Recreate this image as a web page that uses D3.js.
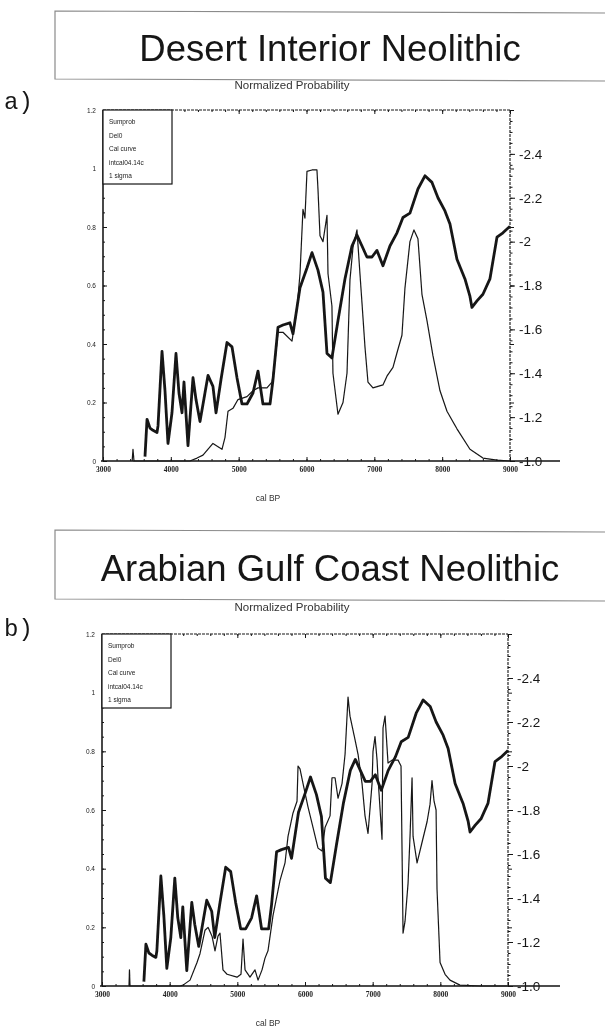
<!DOCTYPE html>
<html lang="en">
<head>
<meta charset="UTF-8">
<title>Desert Interior / Arabian Gulf Coast Neolithic</title>
<script src="https://cdn.jsdelivr.net/npm/d3@7"></script>
<style>
    body{margin:0;background:#fff;}
    svg{display:block;}
</style>
</head>
<body>
<script>
    // calibration curve (intcal04), read against the right axis - same curve in both panels
    var calCurve = [[3619,-1.02],[3649,-1.19],[3693,-1.15],[3737,-1.14],[3796,-1.13],[3811,-1.16],[3870,-1.50],[3914,-1.32],
        [3958,-1.08],[4017,-1.22],[4076,-1.49],[4120,-1.31],[4165,-1.22],[4194,-1.36],[4253,-1.07],[4327,-1.38],[4371,-1.28],
        [4430,-1.18],[4503,-1.31],[4548,-1.39],[4621,-1.34],[4666,-1.22],[4739,-1.37],[4828,-1.54],[4902,-1.52],[4975,-1.38],
        [5049,-1.26],[5123,-1.26],[5211,-1.31],[5285,-1.41],[5358,-1.26],[5462,-1.26],[5506,-1.37],[5580,-1.61],[5653,-1.62],
        [5756,-1.63],[5801,-1.58],[5904,-1.79],[6007,-1.88],[6081,-1.95],[6169,-1.87],[6243,-1.77],[6302,-1.49],[6375,-1.47],
        [6464,-1.64],[6567,-1.83],[6670,-1.98],[6744,-2.03],[6818,-1.98],[6891,-1.93],[6965,-1.93],[7039,-1.96],[7127,-1.89],
        [7230,-1.98],[7334,-2.04],[7422,-2.11],[7525,-2.13],[7643,-2.24],[7746,-2.30],[7850,-2.27],[7938,-2.20],[8041,-2.14],
        [8115,-2.08],[8218,-1.92],[8336,-1.83],[8410,-1.75],[8439,-1.70],[8513,-1.73],[8601,-1.76],[8704,-1.83],[8808,-2.02],
        [8896,-2.04],[9000,-2.07]];

    // normalized summed probability, panel a
    var probDesert = [[3430,0],[3442,0.04],[3457,0],[4282,0],[4386,0.01],[4474,0.02],[4621,0.06],[4754,0.04],[4798,0.08],
        [4843,0.17],[4916,0.18],[4990,0.21],[5123,0.22],[5211,0.24],[5285,0.25],[5417,0.25],[5491,0.27],[5535,0.34],[5580,0.44],
        [5653,0.44],[5786,0.41],[5860,0.52],[5904,0.64],[5948,0.86],[5977,0.83],[6007,0.99],[6081,0.995],[6154,0.995],[6169,0.93],
        [6199,0.77],[6243,0.75],[6302,0.84],[6317,0.64],[6375,0.53],[6390,0.30],[6464,0.16],[6538,0.20],[6597,0.30],[6641,0.62],
        [6685,0.73],[6744,0.79],[6788,0.64],[6818,0.54],[6862,0.39],[6906,0.27],[6980,0.25],[7127,0.26],[7186,0.29],[7275,0.32],
        [7334,0.37],[7407,0.43],[7451,0.59],[7525,0.75],[7584,0.79],[7643,0.76],[7702,0.57],[7776,0.48],[7864,0.36],[7968,0.24],
        [8071,0.17],[8218,0.11],[8410,0.04],[8601,0.01],[8808,0.003],[9000,0]];

    // normalized summed probability, panel b
    var probGulf = [[3399,0],[3406,0.055],[3414,0],[4153,0],[4197,0.003],[4301,0.02],[4404,0.08],[4448,0.11],[4522,0.19],
        [4567,0.20],[4626,0.17],[4670,0.12],[4714,0.17],[4744,0.18],[4788,0.055],[4848,0.04],[4995,0.03],[5054,0.04],[5084,0.16],
        [5114,0.055],[5187,0.03],[5261,0.055],[5306,0.02],[5365,0.055],[5409,0.095],[5453,0.12],[5527,0.24],[5631,0.36],
        [5705,0.42],[5749,0.51],[5823,0.59],[5882,0.63],[5897,0.75],[5926,0.74],[5971,0.69],[6045,0.61],[6119,0.54],[6192,0.47],
        [6252,0.46],[6296,0.54],[6370,0.58],[6399,0.71],[6444,0.71],[6488,0.64],[6547,0.69],[6592,0.79],[6636,0.985],[6665,0.92],
        [6739,0.84],[6784,0.79],[6843,0.69],[6887,0.58],[6931,0.52],[6991,0.69],[7005,0.80],[7035,0.85],[7065,0.77],[7079,0.71],
        [7138,0.50],[7153,0.88],[7183,0.92],[7227,0.76],[7286,0.77],[7375,0.77],[7419,0.75],[7449,0.18],[7478,0.22],[7523,0.35],
        [7552,0.51],[7582,0.71],[7597,0.51],[7656,0.42],[7730,0.49],[7804,0.56],[7848,0.62],[7877,0.70],[7907,0.63],[7937,0.60],
        [7951,0.33],[7996,0.08],[8070,0.04],[8143,0.02],[8291,0.003],[8587,0],[9000,0]];

    var titles = ["Desert Interior Neolithic", "Arabian Gulf Coast Neolithic"];
    var panelTags = ["a)", "b)"];
    var xTicks = [3000, 4000, 5000, 6000, 7000, 8000, 9000];
    var leftTicks = [0, 0.2, 0.4, 0.6, 0.8, 1, 1.2];
    var rightTicks = [-1.0, -1.2, -1.4, -1.6, -1.8, -2.0, -2.2, -2.4];
    var rightTickLabels = ["-1.0", "-1.2", "-1.4", "-1.6", "-1.8", "-2", "-2.2", "-2.4"];
    var legendLines = ["Sumprob", "Del0", "Cal curve", "intcal04.14c", "1 sigma"];

    var width = 605;
    var height = 1028;
    var svg = d3.select('body').append('svg').attr('width', width).attr('height', height);
    svg.append('defs').append('filter').attr('id', 'soft')
        .append('feGaussianBlur').attr('stdDeviation', 0.45);
    var root = svg.append('g').attr('filter', 'url(#soft)');

    // page layout of the two scanned panels
    var panels = [
        {top: 110, bottom: 461, left: 103, right: 510, boxTop: 11, boxBottom: 79, titleY: 61, npY: 89, tagY: 109, prob: probDesert},
        {top: 634, bottom: 986, left: 102, right: 508, boxTop: 530, boxBottom: 599, titleY: 581, npY: 611, tagY: 636, prob: probGulf}
    ];
    var ink = '#161616';

    function drawPanel(p, i) {
        var g = root.append('g');
        var x = d3.scaleLinear().domain([3000, 9000]).range([p.left, p.right]);
        var yL = d3.scaleLinear().domain([0, 1.2]).range([p.bottom, p.top]);
        var yR = d3.scaleLinear().domain([-1.0, -2.6]).range([p.bottom, p.top]);

        // title box (open on the right, like the scan)
        g.append('path')
            .attr('d', 'M605,' + (p.boxTop + 2) + 'L55,' + p.boxTop + 'L55,' + p.boxBottom + 'L605,' + (p.boxBottom + 2))
            .attr('fill', 'none').attr('stroke', '#8a8a8a').attr('stroke-width', 1.2);
        g.append('text').attr('x', 330).attr('y', p.titleY).attr('text-anchor', 'middle')
            .attr('font-family', 'Liberation Sans, Arial, sans-serif').attr('font-size', 36.5).attr('fill', ink)
            .text(titles[i]);
        g.append('text').attr('x', 292).attr('y', p.npY).attr('text-anchor', 'middle')
            .attr('font-family', 'Liberation Sans, Arial, sans-serif').attr('font-size', 11.5).attr('fill', '#333')
            .text('Normalized Probability');
        g.append('text').attr('x', 4).attr('y', p.tagY)
            .attr('font-family', 'Liberation Mono, Courier New, monospace').attr('font-size', 24).attr('fill', ink)
            .text(panelTags[i]);

        // minor ticks
        var minorX = d3.range(3000, 9001, 200);
        g.append('g').attr('transform', 'translate(0,' + p.bottom + ')')
            .call(d3.axisBottom(x).tickValues(minorX).tickSize(-2).tickFormat(''));
        g.append('g').attr('transform', 'translate(0,' + p.top + ')')
            .call(d3.axisTop(x).tickValues(minorX).tickSize(-2).tickFormat(''));
        g.append('g').attr('transform', 'translate(' + p.left + ',0)')
            .call(d3.axisLeft(yL).tickValues(d3.range(0, 1.2001, 0.05)).tickSize(-2).tickFormat(''));
        g.append('g').attr('transform', 'translate(' + p.right + ',0)')
            .call(d3.axisRight(yR).tickValues(d3.range(-1.0, -2.601, -0.05)).tickSize(2.5).tickFormat(''));

        // major ticks + labels
        g.append('g').attr('class', 'xa').attr('transform', 'translate(0,' + p.bottom + ')')
            .call(d3.axisBottom(x).tickValues(xTicks).tickSize(-4).tickPadding(6).tickFormat(d3.format('d')));
        g.append('g').attr('transform', 'translate(0,' + p.top + ')')
            .call(d3.axisTop(x).tickValues(xTicks).tickSize(-4).tickFormat(''));
        g.append('g').attr('class', 'yl').attr('transform', 'translate(' + p.left + ',0)')
            .call(d3.axisLeft(yL).tickValues(leftTicks).tickSize(-4).tickPadding(7).tickFormat(function(d){ return String(d); }));
        g.append('g').attr('transform', 'translate(' + p.right + ',0)')
            .call(d3.axisLeft(yL).tickValues(leftTicks).tickSize(-4).tickFormat(''));
        g.append('g').attr('class', 'yr').attr('transform', 'translate(' + p.right + ',0)')
            .call(d3.axisRight(yR).tickValues(rightTicks).tickSize(5).tickPadding(4)
                .tickFormat(function(d, k){ return rightTickLabels[k]; }));

        g.selectAll('.domain').remove();
        g.selectAll('.tick line').attr('stroke', ink).attr('stroke-width', 1);
        g.selectAll('.xa text').attr('font-size', 7.5).attr('font-weight', 'bold').attr('fill', '#222')
            .attr('font-family', 'Liberation Serif, serif');
        g.selectAll('.yl text').attr('font-size', 6.5).attr('fill', '#222').attr('font-family', 'Liberation Sans, sans-serif');
        g.selectAll('.yr text').attr('font-size', 13.5).attr('fill', ink).attr('font-family', 'Liberation Sans, sans-serif');

        // frame
        g.append('line').attr('x1', p.left).attr('x2', p.left).attr('y1', p.top).attr('y2', p.bottom)
            .attr('stroke', ink).attr('stroke-width', 1.6);
        g.append('line').attr('x1', p.left - 2).attr('x2', 560).attr('y1', p.bottom).attr('y2', p.bottom)
            .attr('stroke', ink).attr('stroke-width', 1.6);
        g.append('line').attr('x1', p.left).attr('x2', p.right).attr('y1', p.top).attr('y2', p.top)
            .attr('stroke', ink).attr('stroke-width', 1.1).attr('stroke-dasharray', '3,1');
        g.append('line').attr('x1', p.right).attr('x2', p.right).attr('y1', p.top).attr('y2', p.bottom)
            .attr('stroke', ink).attr('stroke-width', 1.1).attr('stroke-dasharray', '3,1');

        g.append('text').attr('x', 268).attr('y', p.bottom + 40).attr('text-anchor', 'middle')
            .attr('font-family', 'Liberation Sans, sans-serif').attr('font-size', 8.5).attr('fill', '#333')
            .text('cal BP');

        // legend box
        var lg = g.append('g').attr('transform', 'translate(' + p.left + ',' + p.top + ')');
        lg.append('rect').attr('width', 69).attr('height', 74).attr('fill', '#fff')
            .attr('stroke', ink).attr('stroke-width', 1.2);
        lg.selectAll('text').data(legendLines).enter().append('text')
            .attr('x', 6).attr('y', function(d, k){ return 14 + k * 13.6; })
            .attr('font-family', 'Liberation Sans, sans-serif').attr('font-size', 6.5).attr('fill', '#222')
            .text(function(d){ return d; });

        // series
        var probLine = d3.line().x(function(d){ return x(d[0]); }).y(function(d){ return yL(d[1]); });
        var calLine = d3.line().x(function(d){ return x(d[0]); }).y(function(d){ return yR(d[1]); });
        g.append('path').datum(p.prob).attr('d', probLine)
            .attr('fill', 'none').attr('stroke', ink).attr('stroke-width', 1.2).attr('stroke-linejoin', 'round');
        g.append('path').datum(calCurve).attr('d', calLine)
            .attr('fill', 'none').attr('stroke', ink).attr('stroke-width', 2.8).attr('stroke-linejoin', 'round');
    }

    panels.forEach(drawPanel);
</script>
</body>
</html>
